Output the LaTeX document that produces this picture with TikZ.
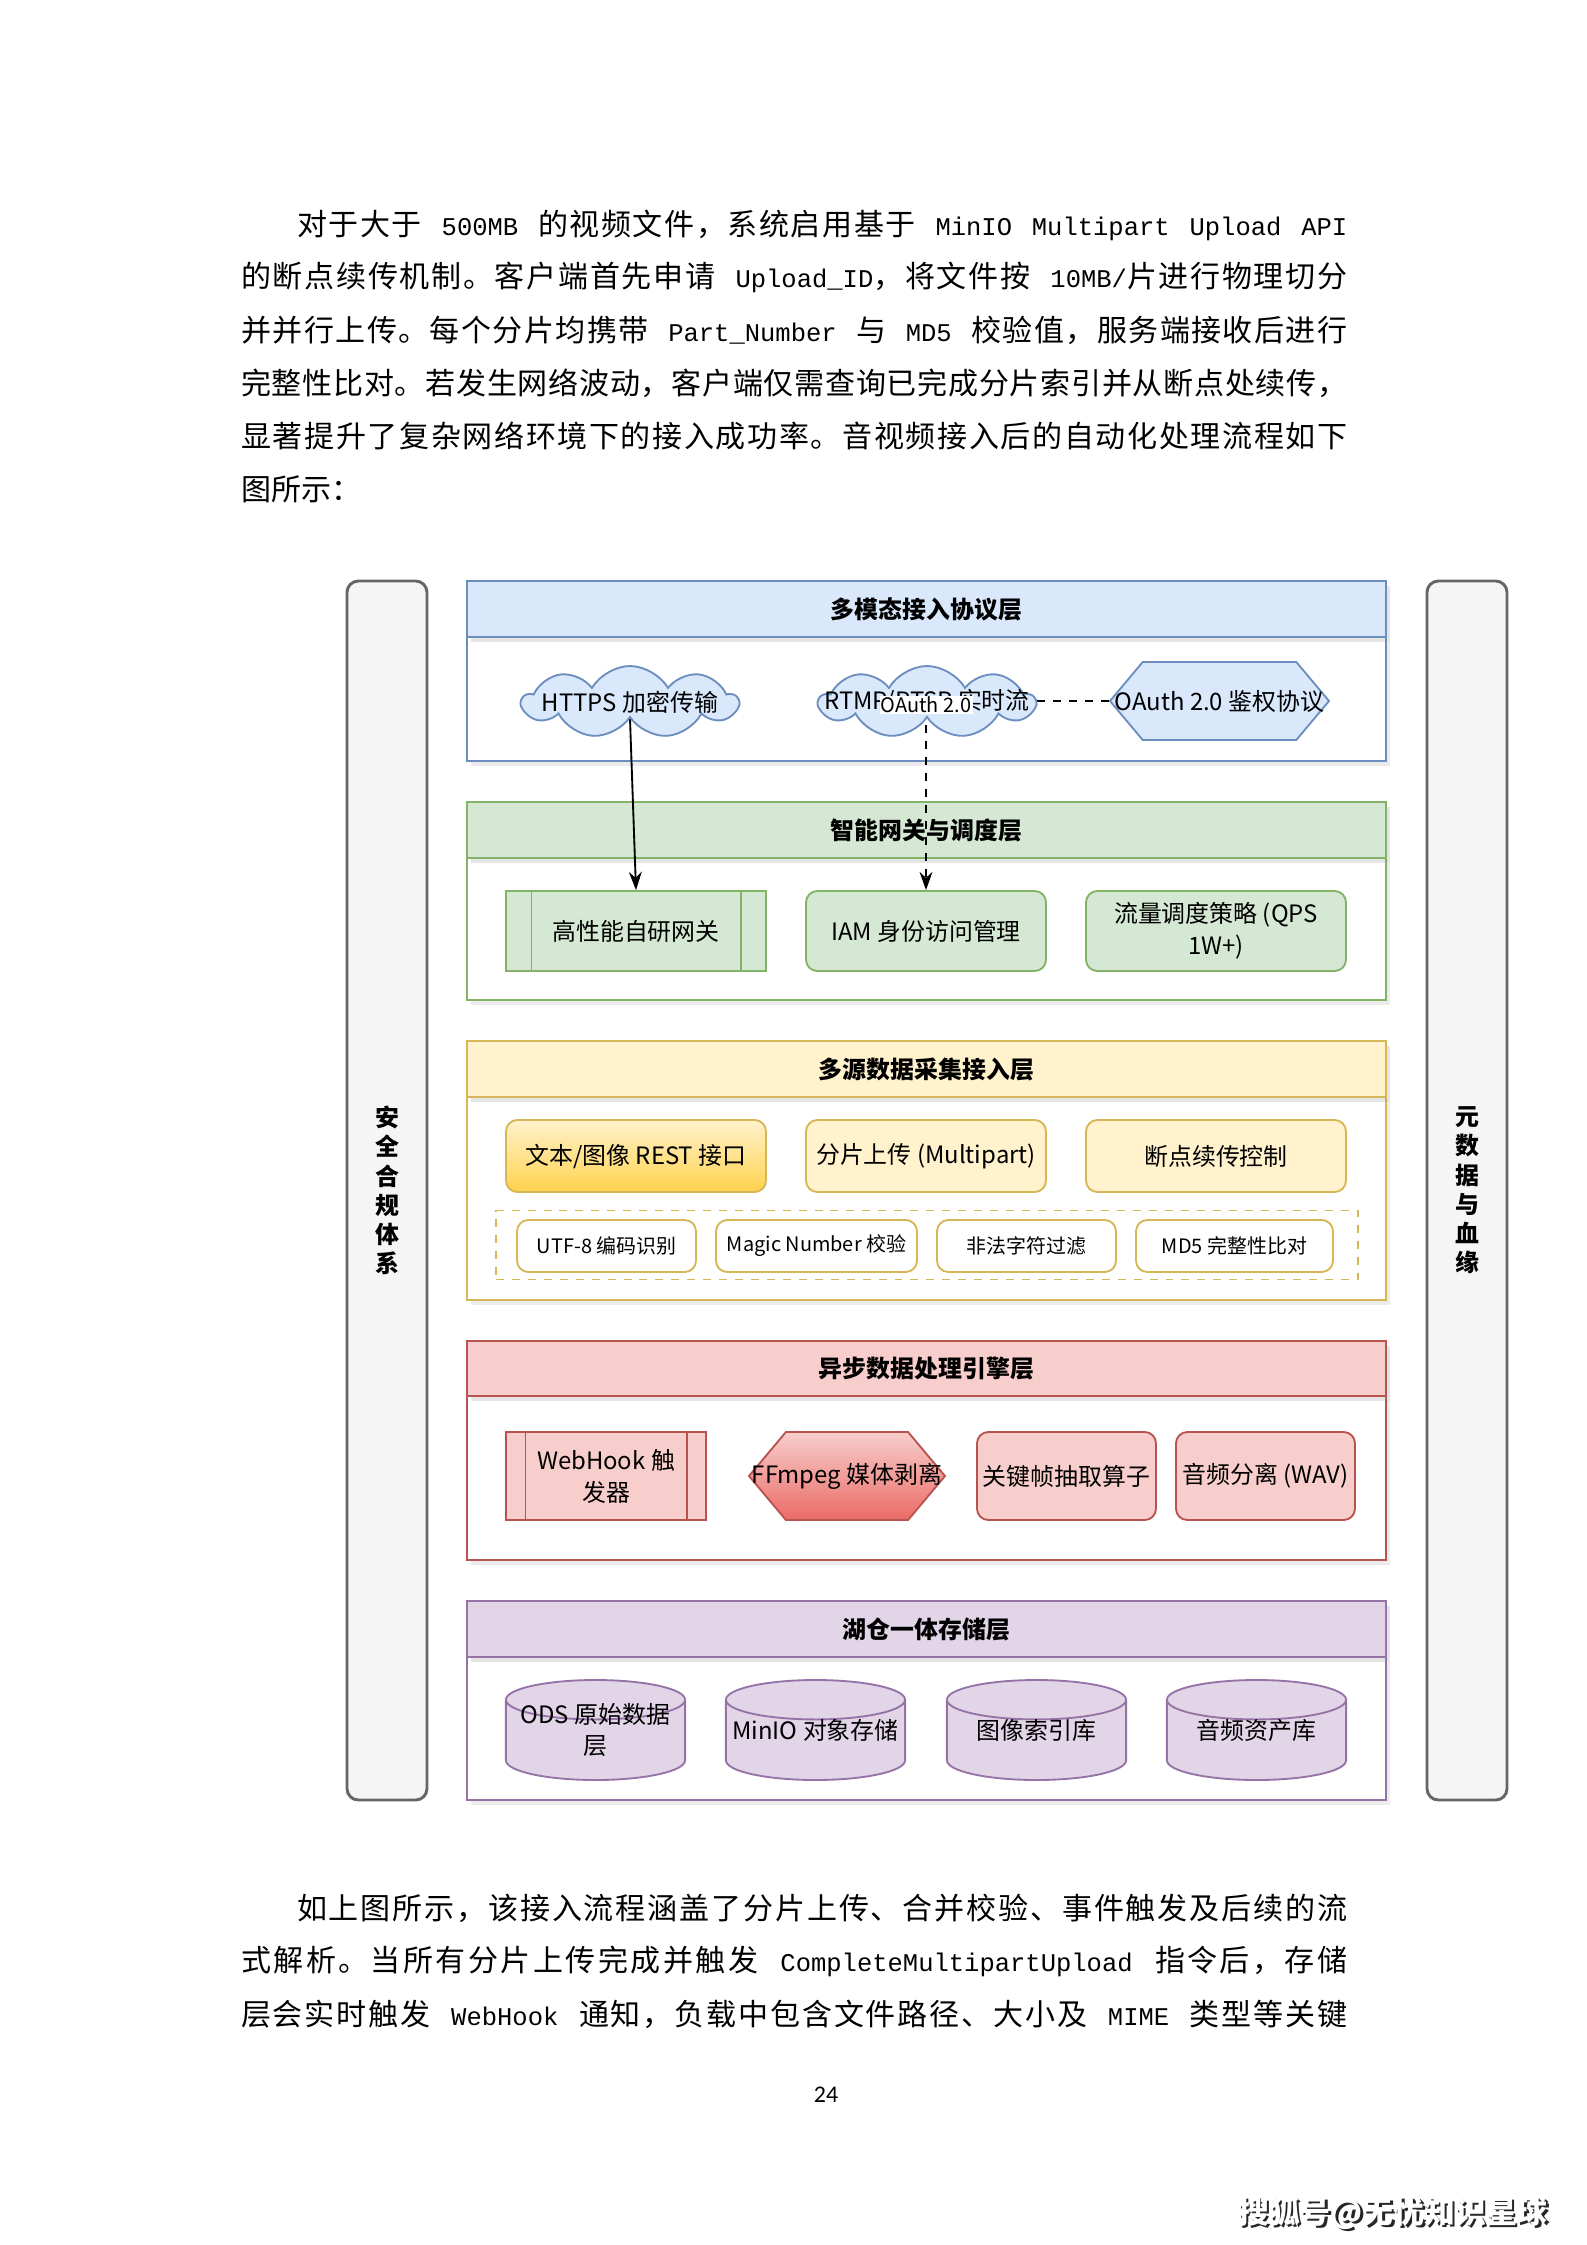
\documentclass[tikz,border=0pt]{standalone}
\usepackage{fontspec}
\setmainfont{Noto Sans CJK SC}
\newfontfamily\codefont{Liberation Mono}[Scale=0.85]
\newfontfamily\numfont{Carlito}
\usetikzlibrary{shapes.geometric, shapes.symbols, arrows.meta, positioning, shadows, calc}
% stretchable glue between CJK characters (for justified body lines)
\XeTeXinterchartokenstate=1
\newcount\cjkc
\cjkc="3000 \loop\XeTeXcharclass\cjkc=1 \advance\cjkc by 1 \ifnum\cjkc<"A000 \repeat
\cjkc="FF00 \loop\XeTeXcharclass\cjkc=1 \advance\cjkc by 1 \ifnum\cjkc<"FFF0 \repeat
\XeTeXinterchartoks 1 1 = {\hskip 0pt plus 1pt\relax}
\newcommand{\pxu}{0.013233cm}
\definecolor{blueF}{HTML}{DAE8FC}\definecolor{blueD}{HTML}{6C8EBF}
\definecolor{greenF}{HTML}{D5E8D4}\definecolor{greenD}{HTML}{82B366}
\definecolor{yelF}{HTML}{FFF2CC}\definecolor{yelD}{HTML}{D6B656}\definecolor{yelG}{HTML}{FFD24D}
\definecolor{redF}{HTML}{F8CECC}\definecolor{redD}{HTML}{B85450}\definecolor{redG}{HTML}{EA6B66}
\definecolor{purF}{HTML}{E1D5E7}\definecolor{purD}{HTML}{9673A6}
\definecolor{sideF}{HTML}{F5F5F5}\definecolor{sideD}{HTML}{666666}
\pgfdeclarelayer{background}
\pgfdeclarelayer{edges}
\pgfsetlayers{background,edges,main}

\begin{document}
\begin{tikzpicture}[x=\pxu, y=-\pxu,
        >={Stealth[length=2.4mm, width=1.7mm]},
        bodyline/.style={anchor=west, inner sep=0pt, font=\fontsize{11.3}{16}\selectfont},
        lyrbody/.style={fill=white, line width=0.8pt, drop shadow={shadow xshift=0.5mm, shadow yshift=-0.7mm, opacity=0.15}},
        lyrhead/.style={line width=0.8pt, drop shadow={shadow xshift=0.5mm, shadow yshift=-0.7mm, opacity=0.2}},
        lyrtitle/.style={font=\fontsize{9}{11}\selectfont\bfseries},
        sidebar/.style={rectangle, rounded corners=0.15cm, draw=sideD, fill=sideF, line width=1.1pt, minimum width=80*\pxu, minimum height=1219*\pxu, align=center, font=\fontsize{9}{11}\selectfont\bfseries},
        box/.style={rectangle, rounded corners=0.15cm, draw, line width=0.7pt, align=center, inner sep=1pt, font=\fontsize{9}{12}\selectfont},
        proc/.style={rectangle, draw, line width=0.7pt, align=center, inner sep=1pt, font=\fontsize{9}{12}\selectfont},
        chk/.style={box, fill=white, draw=yelD, minimum height=52*\pxu, font=\fontsize{7.5}{9}\selectfont},
        cyl/.style={cylinder, shape border rotate=90, aspect=0.22, anchor=shape center, draw=purD, fill=purF, line width=0.7pt, text width=2.3cm, minimum width=179*\pxu, minimum height=100*\pxu, inner sep=1pt},
        cyltxt/.style={inner sep=0pt, align=center, font=\fontsize{9}{11.5}\selectfont},
        cloudbox/.style={cloud, cloud puffs=9, cloud puff arc=120, cloud ignores aspect, draw=blueD, fill=blueF, line width=0.7pt, minimum width=215*\pxu, minimum height=72*\pxu, font=\fontsize{9}{12}\selectfont},
        hexa/.style={signal, signal to=east and west, signal pointer angle=100, line width=0.7pt, font=\fontsize{9}{12}\selectfont},
        edgelbl/.style={fill=white, inner sep=0.5pt, font=\fontsize{7.5}{9}\selectfont}]
    \useasboundingbox (0,0) rectangle (1587,2245);

    % text above the figure
    \node[bodyline] (p1a) at (296.5,225) {\hbox to 13.894cm{对于大于{\codefont\ 500MB\ }的视频文件，系统启用基于{\codefont\ MinIO\ Multipart\ Upload\ API}}};
    \node[bodyline] (p1b) at (240.6,277) {\hbox to 14.635cm{的断点续传机制。客户端首先申请{\codefont\ Upload\_ID}，将文件按{\codefont\ 10MB/}片进行物理切分}};
    \node[bodyline] (p1c) at (240.6,330) {\hbox to 14.635cm{并并行上传。每个分片均携带{\codefont\ Part\_Number\ }与{\codefont\ MD5\ }校验值，服务端接收后进行}};
    \node[bodyline] (p1d) at (240.6,383) {\hbox to 14.635cm{完整性比对。若发生网络波动，客户端仅需查询已完成分片索引并从断点处续传，}};
    \node[bodyline] (p1e) at (240.6,436) {\hbox to 14.635cm{显著提升了复杂网络环境下的接入成功率。音视频接入后的自动化处理流程如下}};
    \node[bodyline] (p1f) at (240.6,489) {图所示：};

    % layers
    \begin{pgfonlayer}{background}
        \fill[white] (0,0) rectangle (1587,2245);
        \draw[lyrbody, draw=blueD] (467,637) rectangle (1386,761);
        \draw[lyrhead, fill=blueF, draw=blueD] (467,581) rectangle (1386,637);
        \draw[lyrbody, draw=greenD] (467,858) rectangle (1386,1000);
        \draw[lyrhead, fill=greenF, draw=greenD] (467,802) rectangle (1386,858);
        \draw[lyrbody, draw=yelD] (467,1097) rectangle (1386,1300);
        \draw[lyrhead, fill=yelF, draw=yelD] (467,1041) rectangle (1386,1097);
        \draw[lyrbody, draw=redD] (467,1396) rectangle (1386,1560);
        \draw[lyrhead, fill=redF, draw=redD] (467,1341) rectangle (1386,1396);
        \draw[lyrbody, draw=purD] (467,1657) rectangle (1386,1800);
        \draw[lyrhead, fill=purF, draw=purD] (467,1601) rectangle (1386,1657);
    \end{pgfonlayer}
    \node[lyrtitle] (t1) at (926.5,609) {多模态接入协议层};
    \node[lyrtitle] (t2) at (926.5,830) {智能网关与调度层};
    \node[lyrtitle] (t3) at (926.5,1069) {多源数据采集接入层};
    \node[lyrtitle] (t4) at (926.5,1369) {异步数据处理引擎层};
    \node[lyrtitle] (t5) at (926.5,1629) {湖仓一体存储层};

    % side bars
    \node[sidebar] (sec) at (387,1190.5) {安\\全\\合\\规\\体\\系};
    \node[sidebar] (meta) at (1467,1190.5) {元\\数\\据\\与\\血\\缘};

    % access protocols
    \node[cloudbox] (https) at (630,702) {\makebox[0pt]{HTTPS 加密传输}};
    \node[cloudbox] (rtmp) at (927,702) {\makebox[0pt]{RTMP/RTSP 实时流}};
    \node[hexa, draw=blueD, fill=blueF, minimum width=219*\pxu, minimum height=78*\pxu] (oauth) at (1219.5,701) {\makebox[0pt]{OAuth 2.0 鉴权协议}};

    % gateway
    \node[proc, draw=greenD, fill=greenF, minimum width=260*\pxu, minimum height=80*\pxu] (gw) at (636,931) {高性能自研网关};
    \draw[greenD, line width=0.7pt] ([xshift=0.35cm]gw.north west) -- ([xshift=0.35cm]gw.south west);
    \draw[greenD, line width=0.7pt] ([xshift=-0.34cm]gw.north east) -- ([xshift=-0.34cm]gw.south east);
    \node[box, draw=greenD, fill=greenF, minimum width=240*\pxu, minimum height=80*\pxu] (iam) at (926,931) {IAM 身份访问管理};
    \node[box, draw=greenD, fill=greenF, minimum width=260*\pxu, minimum height=80*\pxu] (qps) at (1216,931) {流量调度策略 (QPS\\1W+)};

    % collection
    \node[box, draw=yelD, top color=yelF, bottom color=yelG, minimum width=260*\pxu, minimum height=72*\pxu] (rest) at (636,1156) {文本/图像 REST 接口};
    \node[box, draw=yelD, fill=yelF, minimum width=240*\pxu, minimum height=72*\pxu] (multi) at (926,1156) {分片上传 (Multipart)};
    \node[box, draw=yelD, fill=yelF, minimum width=260*\pxu, minimum height=72*\pxu] (resume) at (1216,1156) {断点续传控制};
    \node[draw=yelD, dashed, line width=0.7pt, minimum width=862*\pxu, minimum height=69*\pxu] (chkzone) at (927,1245) {};
    \node[chk, minimum width=179*\pxu] (utf) at (606.5,1246) {UTF-8 编码识别};
    \node[chk, minimum width=201*\pxu] (magic) at (816.5,1246) {Magic Number 校验};
    \node[chk, minimum width=179*\pxu] (illegal) at (1026.5,1246) {非法字符过滤};
    \node[chk, minimum width=197*\pxu] (md5) at (1234.5,1246) {MD5 完整性比对};

    % processing
    \node[proc, draw=redD, fill=redF, minimum width=200*\pxu, minimum height=88*\pxu] (hook) at (606,1476) {WebHook 触\\发器};
    \draw[redD, line width=0.7pt] ([xshift=0.27cm]hook.north west) -- ([xshift=0.27cm]hook.south west);
    \draw[redD, line width=0.7pt] ([xshift=-0.26cm]hook.north east) -- ([xshift=-0.26cm]hook.south east);
    \node[hexa, draw=redD, top color=redF, bottom color=redG, minimum width=196*\pxu, minimum height=88*\pxu] (ffm) at (847,1476) {\makebox[0pt]{FFmpeg 媒体剥离}};
    \node[box, draw=redD, fill=redF, minimum width=179*\pxu, minimum height=88*\pxu] (kf) at (1066.5,1476) {关键帧抽取算子};
    \node[box, draw=redD, fill=redF, minimum width=179*\pxu, minimum height=88*\pxu] (wav) at (1265.5,1476) {音频分离 (WAV)};

    % storage
    \node[cyl] (ods) at (595.5,1730) {};
    \node[cyl] (minio) at (815.5,1730) {};
    \node[cyl] (imgidx) at (1036.5,1730) {};
    \node[cyl] (audio) at (1256.5,1730) {};
    \node[cyltxt] (odstxt) at (ods.shape center) {ODS 原始数据\\层};
    \node[cyltxt] (miniotxt) at (minio.shape center) {MinIO 对象存储};
    \node[cyltxt] (imgidxtxt) at (imgidx.shape center) {图像索引库};
    \node[cyltxt] (audiotxt) at (audio.shape center) {音频资产库};

    % connectors
    \begin{pgfonlayer}{edges}
        \draw[->, line width=0.7pt] (https.south) -- (gw.north);
        \draw[->, line width=0.7pt, dashed] (oauth.west) -| (iam.north);
    \end{pgfonlayer}
    \node[edgelbl] (oauthlbl) at (926,705) {OAuth 2.0};

    % text below the figure
    \node[bodyline] (p2a) at (296.5,1908) {\hbox to 13.894cm{如上图所示，该接入流程涵盖了分片上传、合并校验、事件触发及后续的流}};
    \node[bodyline] (p2b) at (240.6,1961) {\hbox to 14.635cm{式解析。当所有分片上传完成并触发{\codefont\ CompleteMultipartUpload\ }指令后，存储}};
    \node[bodyline] (p2c) at (240.6,2014) {\hbox to 14.635cm{层会实时触发{\codefont\ WebHook\ }通知，负载中包含文件路径、大小及{\codefont\ MIME\ }类型等关键}};

    \node[font=\numfont\fontsize{9}{11}\selectfont] (pgno) at (826,2095) {24};
    \node[font=\fontsize{11.6}{14}\selectfont\bfseries, text=black!85] (sohushade) at (1395.5,2215.5) {搜狐号@无忧知识星球};
    \node[font=\fontsize{11.6}{14}\selectfont\bfseries, text=white] (sohu) at (1393,2213) {搜狐号@无忧知识星球};
\end{tikzpicture}
\end{document}
